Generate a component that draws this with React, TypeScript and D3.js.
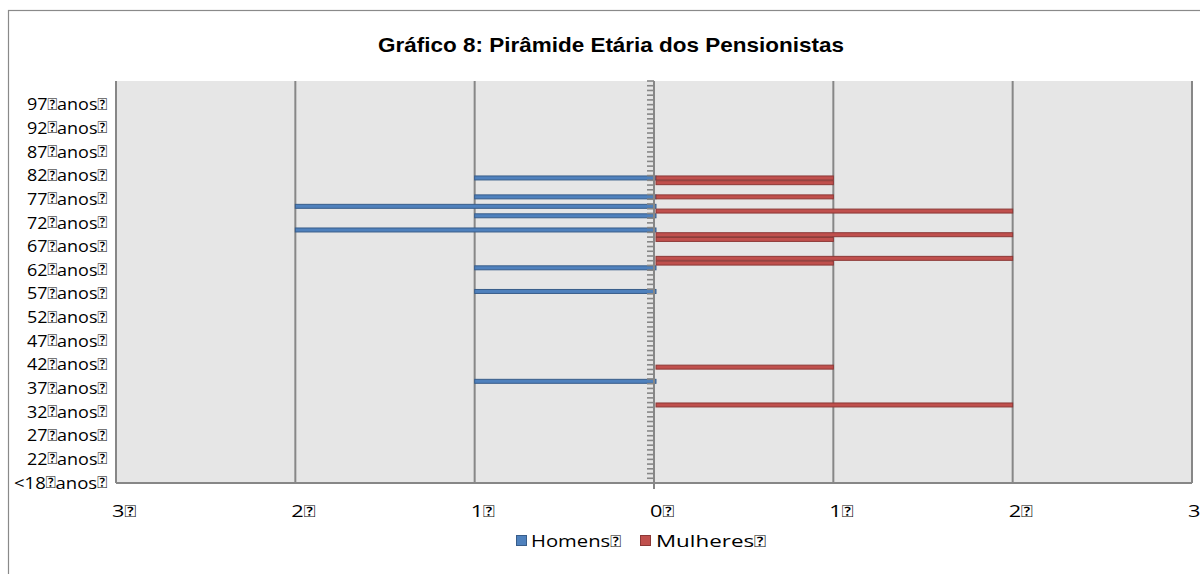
import React from "react";
import * as d3 from "d3";

// Age categories (index 0 = "<18", then 18 .. 101)
const ages: string[] = [
  "<18", "18", "19", "20", "21", "22", "23", "24", "25", "26", "27", "28", "29", "30",
  "31", "32", "33", "34", "35", "36", "37", "38", "39", "40", "41", "42", "43", "44",
  "45", "46", "47", "48", "49", "50", "51", "52", "53", "54", "55", "56", "57", "58",
  "59", "60", "61", "62", "63", "64", "65", "66", "67", "68", "69", "70", "71", "72",
  "73", "74", "75", "76", "77", "78", "79", "80", "81", "82", "83", "84", "85", "86",
  "87", "88", "89", "90", "91", "92", "93", "94", "95", "96", "97", "98", "99", "100", "101",
];

const homens: number[] = [
  0, 0, 0, 0, 0, 0, 0, 0, 0, 0,
  0, 0, 0, 0, 0, 0, 0, 0, 0, 0,
  0, 1, 0, 0, 0, 0, 0, 0, 0, 0,
  0, 0, 0, 0, 0, 0, 0, 0, 0, 0,
  1, 0, 0, 0, 0, 1, 0, 0, 0, 0,
  0, 0, 0, 2, 0, 0, 1, 0, 2, 0,
  1, 0, 0, 0, 1, 0, 0, 0, 0, 0,
  0, 0, 0, 0, 0, 0, 0, 0, 0, 0,
  0, 0, 0, 0, 0,
];

const mulheres: number[] = [
  0, 0, 0, 0, 0, 0, 0, 0, 0, 0,
  0, 0, 0, 0, 0, 0, 2, 0, 0, 0,
  0, 0, 0, 0, 1, 0, 0, 0, 0, 0,
  0, 0, 0, 0, 0, 0, 0, 0, 0, 0,
  0, 0, 0, 0, 0, 0, 1, 2, 0, 0,
  0, 1, 2, 0, 0, 0, 0, 2, 0, 0,
  1, 0, 0, 1, 1, 0, 0, 0, 0, 0,
  0, 0, 0, 0, 0, 0, 0, 0, 0, 0,
  0, 0, 0, 0, 0,
];

const xTickValues: number[] = [-3, -2, -1, 0, 1, 2, 3];
const xTickLabels: string[] = ["3", "2", "1", "0", "1", "2", "3"];

const title = "Gráfico 8: Pirâmide Etária dos Pensionistas";
const seriesNames: string[] = ["Homens", "Mulheres"];

// character that the source font could not show (drawn as a missing-glyph box)
const MISSING = "\uE000";
const TOFU_FONT = "Lato";

const W = 1200;
const H = 574;
const plot = { left: 116, right: 1192, top: 81, bottom: 483 };

const BLUE = "#4F81BD";
const BLUE_DARK = "#385D8A";
const RED = "#C0504D";
const RED_DARK = "#8C3836";
const GRID = "#878787";

function Tofu() {
  return <tspan fontFamily={TOFU_FONT}>{MISSING}</tspan>;
}

export default function App() {
  const x = d3.scaleLinear().domain([-3, 3]).range([plot.left, plot.right]);
  const y = d3
    .scaleBand<string>()
    .domain(ages.slice().reverse())
    .range([plot.top, plot.bottom])
    .padding(0);
  const bw = y.bandwidth();
  const barH = bw * 0.84;

  const labelIdx = ages.map((_, i) => i).filter((i) => i % 5 === 0 && i <= 80);

  return (
    <svg
      width={W}
      height={H}
      style={{ position: "absolute", left: 0, top: 0 }}
      fontFamily="'Open Sans', sans-serif"
    >
      <rect x={0} y={0} width={W} height={H} fill="#ffffff" />
      <rect x={8.5} y={10.5} width={W + 20} height={H + 20} fill="none" stroke="#8a8a8a" strokeWidth={1.2} />

      <text
        x={378}
        y={52}
        fontFamily="'Liberation Sans', Arial, sans-serif"
        fontWeight="bold"
        fontSize={21}
        textLength={466}
        lengthAdjust="spacingAndGlyphs"
        fill="#000"
      >
        {title}
      </text>

      <rect x={plot.left} y={plot.top} width={plot.right - plot.left} height={plot.bottom - plot.top} fill="#E6E6E6" />

      {xTickValues.filter((v) => v !== 0).map((v) => (
        <line key={"g" + v} x1={x(v)} x2={x(v)} y1={plot.top} y2={plot.bottom} stroke={GRID} strokeWidth={2} />
      ))}

      {ages.map((a, i) =>
        homens[i] > 0 ? (
          <rect
            key={"h" + a}
            x={x(-homens[i])}
            y={(y(a) as number) + (bw - barH) / 2}
            width={x(0) - x(-homens[i]) + 2}
            height={barH}
            fill={BLUE}
            stroke={BLUE_DARK}
            strokeWidth={1}
          />
        ) : null
      )}
      {ages.map((a, i) =>
        mulheres[i] > 0 ? (
          <rect
            key={"m" + a}
            x={x(0) + 2}
            y={(y(a) as number) + (bw - barH) / 2}
            width={x(mulheres[i]) - x(0) - 2}
            height={barH}
            fill={RED}
            stroke={RED_DARK}
            strokeWidth={1}
          />
        ) : null
      )}

      <line x1={plot.left} x2={plot.right} y1={plot.bottom} y2={plot.bottom} stroke={GRID} strokeWidth={2} />

      <line x1={x(0)} x2={x(0)} y1={plot.top} y2={plot.bottom + 6} stroke={GRID} strokeWidth={2} />
      {ages.map((a) => (
        <line
          key={"t" + a}
          x1={x(0) - 7}
          x2={x(0)}
          y1={(y(a) as number)}
          y2={(y(a) as number)}
          stroke={GRID}
          strokeWidth={1.6}
        />
      ))}

      {labelIdx.map((i) => {
        const len = ages[i].length === 3 ? 93 : 80;
        return (
          <text
            key={"yl" + i}
            x={107 - len}
            y={(y(ages[i]) as number) + bw / 2 + 1.5}
            dominantBaseline="central"
            fontSize={16.5}
            textLength={len}
            lengthAdjust="spacingAndGlyphs"
            fill="#000"
          >
            {ages[i]}
            <Tofu />
            {"anos"}
            <Tofu />
          </text>
        );
      })}

      {xTickValues.map((v, i) => (
        <text
          key={"xl" + i}
          x={x(v) - 4}
          y={517}
          fontSize={16.5}
          textLength={24}
          lengthAdjust="spacingAndGlyphs"
          fill="#000"
        >
          {xTickLabels[i]}
          <Tofu />
        </text>
      ))}

      <rect x={516.5} y={535.5} width={10} height={10} fill={BLUE} stroke={BLUE_DARK} />
      <text x={531} y={547} fontSize={16.5} textLength={90} lengthAdjust="spacingAndGlyphs" fill="#000">
        {seriesNames[0]}
        <Tofu />
      </text>
      <rect x={640.5} y={535.5} width={10} height={10} fill={RED} stroke={RED_DARK} />
      <text x={656} y={547} fontSize={16.5} textLength={110} lengthAdjust="spacingAndGlyphs" fill="#000">
        {seriesNames[1]}
        <Tofu />
      </text>
    </svg>
  );
}
